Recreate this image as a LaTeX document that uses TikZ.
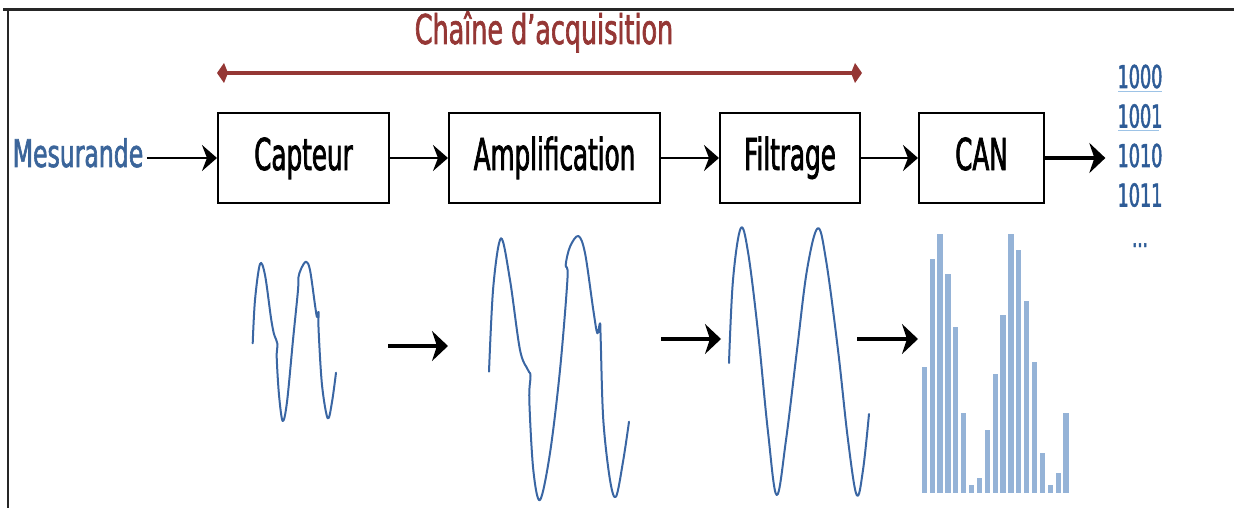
\documentclass[tikz,border=0pt]{standalone}
\usepackage{fontspec}
\usepackage{tikz}
\usetikzlibrary{arrows.meta, positioning}

\newfontfamily\narrowfont[FakeStretch=0.56, FakeBold=1.6]{DejaVu Sans}
\newfontfamily\widefont[FakeStretch=0.62, FakeBold=1.6]{DejaVu Sans}

\definecolor{chainred}{HTML}{953735}
\definecolor{mesblue}{HTML}{3B659A}
\definecolor{bitblue}{HTML}{2E5C97}
\definecolor{waveblue}{HTML}{3A66A3}
\definecolor{barblue}{HTML}{95B3D7}
\definecolor{lineblue}{HTML}{9DC3E6}

\tikzstyle{block} = [rectangle, minimum height=90pt, inner sep=0pt, text height=32pt, text depth=8pt, draw=black, line width=2pt, font=\narrowfont\fontsize{44}{48}\selectfont]
\tikzstyle{arrow} = [-{Stealth[length=15pt,width=26pt,inset=5pt]}, line width=2.5pt]
\tikzstyle{bigarrow} = [-{Stealth[length=16pt,width=30pt,inset=5pt]}, line width=4pt]
\tikzstyle{chain} = [{Kite[length=11pt,width=20pt,inset=4pt]}-{Kite[length=11pt,width=20pt,inset=4pt]}, line width=4pt, draw=chainred]
\tikzstyle{bits} = [anchor=base, text=bitblue, inner xsep=12pt, font=\narrowfont\fontsize{31.5}{34}\selectfont]
\tikzstyle{wave} = [waveblue, line width=2pt, line join=round, line cap=round]
\tikzstyle{bar} = [fill=barblue]

\begin{document}
\begin{tikzpicture}[x=1pt, y=-1pt]

    \useasboundingbox (0,0) rectangle (1234,508);

    % frame
    \draw [line width=3pt, black!85] (3,10) -- (1234,10);
    \draw [line width=2pt, black!85] (8,10) -- (8,508);

    % title
    \node (title) [anchor=base, text=chainred, font=\widefont\fontsize{41}{44}\selectfont] at (544,44) {Chaîne d’acquisition};
    \coordinate (chL) at (217,73);
    \coordinate (chR) at (862,73);
    \draw [chain] (chL) -- (chR);

    % chain of blocks
    \node (meas) [anchor=base, text=mesblue, font=\widefont\fontsize{38}{42}\selectfont] at (78,167) {Mesurande};
    \node (capt) [block, minimum width=171pt] at (303.5,158) {Capteur};
    \node (ampli) [block, minimum width=211pt] at (554.5,158) {Amplification};
    \node (filt) [block, minimum width=140pt] at (790,158) {Filtrage};
    \node (can) [block, minimum width=125pt] at (981.5,158) {CAN};

    \draw [arrow] (meas.east |- capt) -- (capt);
    \draw [arrow] (capt) -- (ampli);
    \draw [arrow] (ampli) -- (filt);
    \draw [arrow] (filt) -- (can);

    % output codes
    \node (b0) [bits] at (1140,88) {1000};
    \node (b1) [bits] at (1140,127.5) {1001};
    \node (b2) [bits] at (1140,167) {1010};
    \node (b3) [bits] at (1140,206.5) {1011};
    \node (more) [anchor=base, text=bitblue, font=\narrowfont\fontsize{30}{32}\selectfont] at (1140,247) {...};
    \draw [lineblue, line width=1.5pt] (1118,91.7) -- (1162,91.7);
    \draw [lineblue, line width=1.5pt] (1118,130.7) -- (1159,130.7);

    \draw [bigarrow] (can) -- (can -| b2.west);

    % signals
    \draw [wave] plot [smooth, tension=0.55] coordinates {(252.7,343.3) (255,300) (260,264) (265,275) (271,318) (274,334) (277.5,344) (276.7,357) (279,395) (282.7,421) (287,402) (293,340) (298,290) (298.3,278) (301,269) (306,261.7) (310,270) (315,305) (317,317) (318.6,312) (318.6,330) (322,385) (327.7,418.3) (332,402) (336,372.7)};

    \draw [wave] plot [smooth, tension=0.55] coordinates {(489,371.7) (493.3,286.7) (501,238.3) (510,280) (520,350) (528,370) (530.5,376) (529.3,400) (533.3,470) (540,500) (550,453) (560,370) (567.5,278) (565.7,265) (570,246.7) (578.3,236) (585,253) (593.3,310) (597.3,333.3) (600,323.3) (600.7,340) (603.3,420) (610,480) (616,496.7) (623.3,460) (629,421.7)};

    \draw [wave] plot [smooth, tension=0.6] coordinates {(729,363) (733,280) (740.7,228.3) (748,252) (758,332) (768,432) (776.7,495) (786,440) (797,350) (807,270) (817.7,228.3) (826,260) (838,350) (848,440) (856.7,495) (863,470) (869,414)};

    \coordinate (s1) at (388,346);
    \coordinate (e1) at (448,346);
    \coordinate (s2) at (661,339);
    \coordinate (e2) at (721,339);
    \coordinate (s3) at (857,339);
    \coordinate (e3) at (918,339);
    \draw [bigarrow] (s1) -- (e1);
    \draw [bigarrow] (s2) -- (e2);
    \draw [bigarrow] (s3) -- (e3);

    % samples
    \foreach \i/\t in {1/366.7, 2/259.3, 3/234, 4/274, 5/326.7, 6/412.7, 7/485, 8/477.7, 9/430, 10/374.3, 11/315.3, 12/234, 13/250, 14/301, 15/362, 16/452.7, 17/485, 18/473.3, 19/412.7}
        \fill [bar] ({921.7+7.87*(\i-1)},\t) rectangle ({927+7.87*(\i-1)},493.3);

\end{tikzpicture}
\end{document}
